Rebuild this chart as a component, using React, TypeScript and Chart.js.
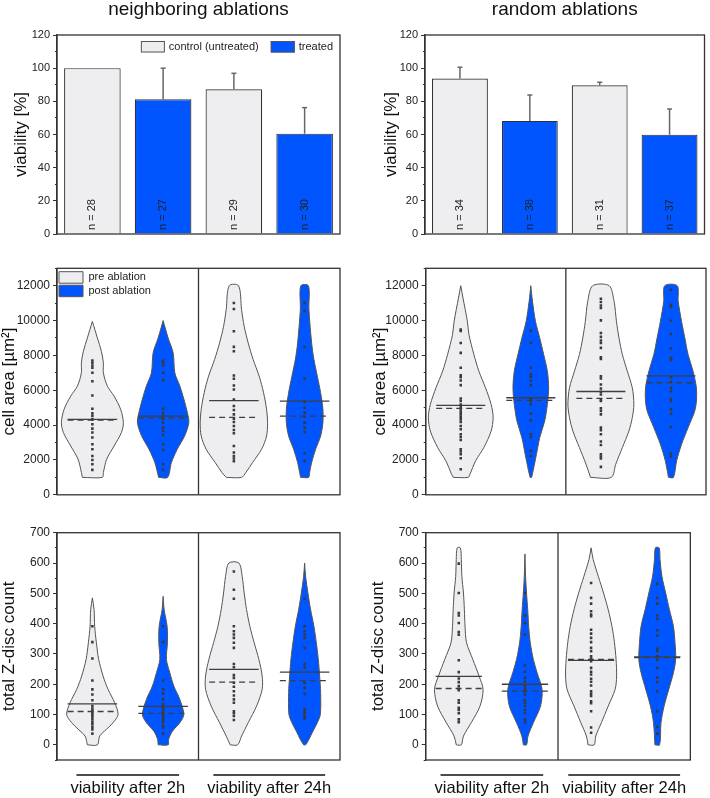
import { useEffect, useRef } from 'react';
import { Chart, registerables } from 'chart.js';

Chart.register(...registerables);

const FONT = '"Liberation Sans", Arial, Helvetica, sans-serif';
Chart.defaults.font.family = FONT;
Chart.defaults.color = '#222';

// ---------------- data ----------------
const SERIES_LABELS = ['control (untreated)', 'treated'];
const VIOLIN_LABELS = ['pre ablation', 'post ablation'];
const GROUP_LABELS = ['viability after 2h', 'viability after 24h'];
const POSITIONS = [1, 2, 3, 4];

const NEIGH_VIABILITY = [100, 81.2, 87.3, 60.5];
const NEIGH_SD = [0, 18.8, 9.6, 15.7];
const NEIGH_N = [28, 27, 29, 30];
const RANDOM_VIABILITY = [93.7, 68.2, 89.7, 59.9];
const RANDOM_SD = [6.8, 15.6, 1.8, 15.5];
const RANDOM_N = [34, 38, 31, 37];

// violin outlines: value levels and relative density (arbitrary units)
const CELL_NEIGH_LEVELS = [
  [1000, 1281, 2042, 2803, 3570, 4142, 4903, 5664, 6236, 7002, 7574, 8238, 9004, 9950],
  [1000, 1850, 2600, 3400, 4150, 4700, 5500, 6250, 7000, 8150, 9000, 10000],
  [1000, 1281, 1853, 2614, 3375, 4142, 4903, 5858, 6808, 7763, 8718, 9668, 10623, 12000],
  [1000, 1281, 1853, 2614, 3375, 4142, 4903, 5858, 6808, 7763, 8718, 10623, 12000],
];
const CELL_NEIGH_DENSITY = [
  [10, 11, 14.3, 21.7, 29, 31, 28.3, 21.7, 15, 11, 11, 9, 5, 0],
  [4.5, 8.3, 14, 21.7, 25.7, 24.3, 20.7, 16.7, 11.7, 10, 5, 0],
  [7.5, 12, 18.7, 27.7, 32.7, 33.7, 32.7, 29.7, 25.3, 19.3, 14.3, 10.3, 7.7, 4.7],
  [4, 5, 7, 11, 16, 18.3, 18.3, 16, 12.7, 9.3, 7, 4.3, 3.8],
];
const CELL_NEIGH_DOTS = [
  [7706, 7574, 7420, 7288, 7002, 6522, 5704, 4942, 4674, 4520, 4330, 4045, 3799, 3570, 3284, 2900, 2614, 2231, 2002, 1756, 1430],
  [7706, 7574, 7420, 7002, 6580, 4942, 4714, 4520, 4370, 4142, 3856, 3665, 3436, 2900, 2576, 1756, 1430],
  [11006, 10663, 9382, 8489, 8238, 6848, 6659, 6276, 6047, 5475, 5092, 4863, 4616, 4370, 4176, 3947, 3719, 3529, 2803, 2423, 2232, 2080, 1928],
  [11006, 10550, 8489, 6680, 5342, 5000, 4714, 4490, 4142, 3856, 3605, 2385, 1947],
];
const CELL_NEIGH_MEAN = [4330, 4520, 5400, 5380];
const CELL_NEIGH_MEDIAN = [4290, 4406, 4446, 4520];

const CELL_RAND_LEVELS = [
  [1000, 1184, 1945, 2712, 3661, 4428, 5189, 6144, 7094, 8049, 9193, 9954, 11293, 12000],
  [1000, 1374, 2327, 3280, 4235, 5189, 6144, 7094, 8049, 9000, 9954, 11102, 12000],
  [1000, 1755, 2712, 3661, 4428, 5189, 6144, 7094, 8049, 9000, 9954, 11102, 12000],
  [1000, 1945, 2900, 3856, 4806, 5380, 6144, 7094, 8049, 9000, 9954, 11102, 12000],
];
const CELL_RAND_DENSITY = [
  [7.5, 9.3, 15, 23.3, 30.7, 32.7, 30.7, 25, 18.3, 13.3, 8.3, 6.7, 2.3, 0],
  [0.7, 2.3, 5.7, 9, 14, 16.7, 18, 16.7, 13, 9, 4.7, 1.7, 0],
  [10.5, 15, 21.7, 28.3, 31.7, 33.3, 31.7, 26.7, 21.7, 18.3, 15.7, 13.3, 8.3],
  [2.5, 5.7, 10.7, 17.3, 24, 25.7, 25.7, 22.3, 17.3, 14, 10.7, 7.3, 6.3],
];
const CELL_RAND_DOTS = [
  [9480, 9400, 8717, 8146, 7287, 6867, 6750, 6561, 6294, 5532, 5378, 5188, 5034, 4901, 4769, 4616, 4483, 4330, 4176, 3947, 3757, 3471, 3318, 3146, 2613, 2481, 2327, 2098, 1469],
  [9422, 8717, 7287, 6905, 6770, 6561, 6294, 5532, 5378, 5188, 4654, 4272, 3471, 3318, 2517, 2231],
  [11253, 11063, 10870, 10719, 10011, 9292, 9063, 8851, 8717, 8432, 7895, 7801, 6808, 6676, 6333, 6104, 5913, 5761, 5475, 5378, 4960, 4806, 4616, 3856, 3701, 3471, 3055, 2860, 2328, 2195, 2082, 1602],
  [11767, 10910, 10776, 9994, 9233, 8392, 7860, 7744, 6751, 6487, 6144, 5950, 5515, 5378, 4903, 4655, 3890, 2368, 2195],
];
const CELL_RAND_MEAN = [5130, 5570, 5930, 6830];
const CELL_RAND_MEDIAN = [4960, 5420, 5540, 6430];

const ZDISC_NEIGH_LEVELS = [
  [0, 29, 51, 73, 100, 139, 183, 227, 282, 337, 391, 446, 485],
  [0, 18, 45, 73, 100, 150, 194, 238, 282, 337, 391, 446, 490],
  [0, 29, 73, 128, 183, 227, 282, 337, 391, 446, 501, 556, 600],
  [0, 18, 45, 73, 100, 173, 227, 282, 337, 391, 446, 501, 556, 600],
];
const ZDISC_NEIGH_DENSITY = [
  [5, 7.3, 14, 20.7, 25.7, 22.3, 15.7, 10.7, 6.3, 4, 2.3, 1.7, 0],
  [5, 5.5, 9.3, 16.7, 20.7, 16.7, 10.7, 6.7, 3.3, 4.3, 4, 1, 0],
  [3.7, 7.7, 14.3, 22.7, 28.3, 28.3, 25, 20.3, 16, 12.7, 10.3, 8.3, 5],
  [1, 4.3, 8.3, 12.7, 15.7, 16, 15, 13.7, 11.7, 9.3, 6, 3.3, 1, 0],
];
const ZDISC_NEIGH_DOTS = [
  [391, 339, 285, 212, 183, 166, 147, 128, 120, 113, 106, 99, 93, 84, 75, 68, 60, 51, 37],
  [391, 339, 212, 183, 169, 150, 134, 123, 115, 106, 99, 93, 84, 75, 64, 57, 37],
  [572, 512, 482, 391, 375, 364, 353, 337, 320, 267, 256, 230, 221, 205, 192, 177, 163, 150, 139, 111, 104, 95, 82],
  [482, 391, 375, 364, 353, 320, 267, 256, 205, 188, 168, 118, 110, 104, 95, 88],
];
const ZDISC_NEIGH_MEAN = [135, 127, 249, 240];
const ZDISC_NEIGH_MEDIAN = [110, 104, 207, 212];

const ZDISC_RAND_LEVELS = [
  [0, 29, 73, 128, 183, 227, 282, 337, 391, 446, 501, 556, 611, 650],
  [0, 29, 73, 128, 183, 238, 282, 337, 391, 446, 501, 556, 630],
  [0, 29, 73, 128, 183, 227, 282, 337, 391, 446, 501, 556, 611, 650],
  [0, 73, 128, 183, 238, 282, 337, 391, 446, 501, 556, 611, 650],
];
const ZDISC_RAND_DENSITY = [
  [2.7, 5, 13.3, 22.7, 26, 21.7, 15, 8.3, 6.7, 6, 5, 3.3, 2.7, 1.7],
  [1.7, 3.3, 9, 16.7, 18.3, 13, 9, 5.7, 4, 3, 1.7, 0.7, 0],
  [3.3, 5, 11, 18.3, 25.7, 27.3, 26.7, 25, 22.3, 18.3, 13.3, 7.7, 2.3, 0],
  [2.5, 4, 7.3, 12.3, 17.3, 19.7, 19, 17.3, 13, 9, 5, 3, 2],
];
const ZDISC_RAND_DOTS = [
  [598, 501, 435, 427, 402, 372, 363, 279, 240, 219, 207, 194, 185, 180, 147, 139, 122, 115, 104, 84, 75],
  [501, 427, 402, 364, 262, 241, 221, 208, 194, 185, 177, 166, 147, 139, 128, 115, 104, 84, 75],
  [534, 485, 466, 441, 430, 424, 380, 367, 353, 339, 320, 309, 292, 285, 276, 254, 241, 232, 218, 208, 196, 177, 169, 161, 144, 137, 111, 57, 40],
  [532, 485, 466, 427, 415, 378, 361, 317, 309, 292, 281, 254, 222, 207, 177, 111, 59, 37],
];
const ZDISC_RAND_MEAN = [226, 200, 279, 290];
const ZDISC_RAND_MEDIAN = [186, 177, 282, 288];

// ---------------- styles ----------------
const GRAY = '#eeeef0';
const BLUE = '#0055ff';
const AXIS = '#333333';
const OUTLINE = '#555555';
const STAT = '#3f3f3f';
const DOT = '#3a3a3a';
const X_MIN = 0.5;
const X_MAX = 4.5;
const DENS_TO_X = 1 / 70.75;
const LINE_HALF = 0.35;

const isMinor = (v: number, major: number) => Math.round(v) % major !== 0;

function makeYAxis(p: any) {
  return {
    type: 'linear',
    position: 'left',
    min: p.min,
    max: p.max,
    afterFit: (s: any) => {
      s.width = p.width;
    },
    ticks: {
      stepSize: p.step,
      autoSkip: false,
      color: '#222',
      padding: 3,
      font: { size: p.tickSize, family: FONT },
      callback: (v: any) => (isMinor(Number(v), p.major) ? '' : String(v)),
    },
    grid: {
      drawOnChartArea: false,
      drawTicks: true,
      tickLength: 4,
      tickColor: AXIS,
      tickWidth: 1,
      tickBorderDash: (c: any) => (c.tick && isMinor(c.tick.value, p.major) ? [2, 2] : []),
      tickBorderDashOffset: (c: any) => (c.tick && isMinor(c.tick.value, p.major) ? 2 : 0),
    },
    border: { color: AXIS, width: 1.3 },
    title: {
      display: true,
      text: p.title,
      color: '#111',
      font: { size: 17, lineHeight: 1, family: FONT },
      padding: { top: p.titleOffset, bottom: 0 },
    },
  };
}

const framePlugin = {
  id: 'frame',
  afterDatasetsDraw(chart: any) {
    const { ctx, chartArea: a } = chart;
    ctx.save();
    ctx.strokeStyle = AXIS;
    ctx.lineWidth = 1.3;
    ctx.strokeRect(a.left, a.top, a.right - a.left, a.bottom - a.top);
    ctx.restore();
  },
};

function nLabelPlugin(counts: number[]) {
  return {
    id: 'nLabels',
    afterDatasetsDraw(chart: any) {
      const { ctx } = chart;
      const xs = chart.scales.x;
      const ys = chart.scales.y;
      ctx.save();
      ctx.font = `11px ${FONT}`;
      ctx.fillStyle = '#222';
      ctx.textAlign = 'left';
      ctx.textBaseline = 'middle';
      counts.forEach((n, i) => {
        ctx.save();
        ctx.translate(xs.getPixelForValue(POSITIONS[i]), ys.getPixelForValue(0) - 4);
        ctx.rotate(-Math.PI / 2);
        ctx.fillText(`n = ${n}`, 0, 0);
        ctx.restore();
      });
      ctx.restore();
    },
  };
}

const barLegendPlugin = {
  id: 'barLegend',
  afterDatasetsDraw(chart: any) {
    const { ctx, chartArea: a } = chart;
    const colors = [GRAY, BLUE];
    ctx.save();
    ctx.font = `11px ${FONT}`;
    const widths = SERIES_LABELS.map((t) => 28 + ctx.measureText(t).width);
    const total = widths.reduce((s, w) => s + w, 0) + 12 * (SERIES_LABELS.length - 1);
    let x = a.right - 7 - total;
    const y = a.top + 6;
    SERIES_LABELS.forEach((t, i) => {
      ctx.fillStyle = colors[i];
      ctx.fillRect(x, y, 24, 11.5);
      ctx.strokeStyle = OUTLINE;
      ctx.lineWidth = 1;
      ctx.strokeRect(x + 0.5, y + 0.5, 23, 10.5);
      ctx.fillStyle = '#222';
      ctx.textAlign = 'left';
      ctx.textBaseline = 'middle';
      ctx.fillText(t, x + 28, y + 6);
      x += widths[i] + 12;
    });
    ctx.restore();
  },
};

const overlinePlugin = {
  id: 'overline',
  afterDraw(chart: any) {
    const s = chart.scales.xg;
    if (!s) return;
    const { ctx } = chart;
    ctx.save();
    ctx.strokeStyle = '#111';
    ctx.lineWidth = 1.3;
    ctx.font = `16.5px ${FONT}`;
    GROUP_LABELS.forEach((label, i) => {
      const x = s.getPixelForTick(i);
      const w = ctx.measureText(label).width - 12;
      const y = s.top + 15;
      ctx.beginPath();
      ctx.moveTo(x - w / 2, y);
      ctx.lineTo(x + w / 2, y);
      ctx.stroke();
    });
    ctx.restore();
  },
};

function barConfig(p: any) {
  const datasets: any[] = [
    {
      type: 'bar',
      label: SERIES_LABELS[0],
      data: [0, 2].map((i) => ({ x: POSITIONS[i], y: p.values[i] })),
      backgroundColor: GRAY,
      borderColor: AXIS,
      borderWidth: 1.2,
      grouped: false,
      barPercentage: 1,
      categoryPercentage: 0.8,
      order: 2,
    },
    {
      type: 'bar',
      label: SERIES_LABELS[1],
      data: [1, 3].map((i) => ({ x: POSITIONS[i], y: p.values[i] })),
      backgroundColor: BLUE,
      borderColor: AXIS,
      borderWidth: 1.2,
      grouped: false,
      barPercentage: 1,
      categoryPercentage: 0.8,
      order: 2,
    },
  ];
  p.values.forEach((v: number, i: number) => {
    if (p.sd[i] <= 0) return;
    datasets.push({
      type: 'line',
      label: 'sd',
      data: [
        { x: POSITIONS[i], y: v },
        { x: POSITIONS[i], y: v + p.sd[i] },
      ],
      borderColor: '#666',
      borderWidth: 1.5,
      pointRadius: [0, 2.5],
      pointStyle: 'line',
      pointBorderColor: '#666',
      pointBorderWidth: 1.5,
      order: 1,
    });
  });
  return {
    type: 'bar',
    data: { datasets },
    options: {
      responsive: false,
      animation: false,
      events: [],
      layout: { padding: { left: 0, top: 0, right: p.padRight, bottom: 16 } },
      scales: {
        x: { type: 'linear', min: X_MIN, max: X_MAX, display: false, offset: false, ticks: { stepSize: 1 } },
        y: makeYAxis({ min: 0, max: 120, step: 10, major: 20, title: 'viability [%]', titleOffset: p.titleOffset, width: p.yWidth, tickSize: 11 }),
      },
      plugins: {
        legend: { display: false },
        tooltip: { enabled: false },
        title: {
          display: true,
          text: p.title,
          fullSize: false,
          color: '#111',
          font: { size: 19, weight: 'normal', lineHeight: 1, family: FONT },
          padding: { top: 0, bottom: 16 },
        },
      },
    },
    plugins: [framePlugin, nLabelPlugin(p.counts), ...(p.legend ? [barLegendPlugin] : [])],
  };
}

function violinConfig(p: any) {
  const datasets: any[] = [
    {
      type: 'line',
      label: 'divider',
      data: [
        { x: 2.5, y: p.yMin },
        { x: 2.5, y: p.yMax },
      ],
      borderColor: AXIS,
      borderWidth: 1.3,
      pointRadius: 0,
      order: 0,
    },
  ];
  POSITIONS.forEach((c, i) => {
    const lv: number[] = p.levels[i];
    const dn: number[] = p.density[i];
    const left = lv.map((v, k) => ({ x: c - dn[k] * DENS_TO_X, y: v }));
    const right = lv.map((v, k) => ({ x: c + dn[k] * DENS_TO_X, y: v })).reverse();
    datasets.push({
      type: 'line',
      label: 'violin',
      data: [...left, ...right, left[0]],
      fill: 'shape',
      backgroundColor: i % 2 === 0 ? GRAY : BLUE,
      borderColor: OUTLINE,
      borderWidth: 1,
      pointRadius: 0,
      tension: 0.3,
      order: 4,
    });
    datasets.push({
      type: 'line',
      label: 'mean',
      data: [
        { x: c - LINE_HALF, y: p.mean[i] },
        { x: c + LINE_HALF, y: p.mean[i] },
      ],
      borderColor: STAT,
      borderWidth: 1.3,
      pointRadius: 0,
      order: 2,
    });
    datasets.push({
      type: 'line',
      label: 'median',
      data: [
        { x: c - LINE_HALF, y: p.median[i] },
        { x: c + LINE_HALF, y: p.median[i] },
      ],
      borderColor: STAT,
      borderWidth: 1.3,
      borderDash: [6, 4],
      pointRadius: 0,
      order: 2,
    });
    datasets.push({
      type: 'line',
      label: 'points',
      data: p.dots[i].map((v: number) => ({ x: c, y: v })),
      showLine: false,
      pointRadius: 1.8,
      pointStyle: 'rect',
      pointBackgroundColor: DOT,
      pointBorderWidth: 0,
      order: 1,
    });
  });

  const scales: any = {
    x: { type: 'linear', min: X_MIN, max: X_MAX, display: false },
    y: makeYAxis({ min: p.yMin, max: p.yMax, step: p.step, major: p.major, title: p.title, titleOffset: p.titleOffset, width: p.yWidth, tickSize: 12 }),
  };
  if (p.groupAxis) {
    scales.xg = {
      type: 'category',
      labels: GROUP_LABELS,
      position: 'bottom',
      offset: true,
      grid: { display: false, drawTicks: false },
      border: { display: false },
      ticks: { color: '#111', padding: 19, font: { size: 16.5, family: FONT }, maxRotation: 0, minRotation: 0, autoSkip: false },
      afterFit: (s: any) => {
        s.height = 38;
      },
    };
  }

  return {
    type: 'line',
    data: { datasets },
    options: {
      responsive: false,
      animation: false,
      events: [],
      layout: { padding: p.padding },
      scales,
      plugins: {
        tooltip: { enabled: false },
        title: { display: false },
        legend: p.legend
          ? {
              display: true,
              position: 'chartArea',
              align: 'start',
              title: { display: true, text: ' ', font: { size: 2 }, padding: { top: 17.3, bottom: 0 } },
              labels: {
                boxWidth: 24,
                boxHeight: 11.5,
                padding: 2,
                color: '#222',
                font: { size: 11, family: FONT },
                generateLabels: () => [
                  { text: VIOLIN_LABELS[0], fillStyle: GRAY, strokeStyle: OUTLINE, lineWidth: 1, hidden: false, datasetIndex: 1 },
                  { text: VIOLIN_LABELS[1], fillStyle: BLUE, strokeStyle: OUTLINE, lineWidth: 1, hidden: false, datasetIndex: 5 },
                ],
              },
            }
          : { display: false },
      },
    },
    plugins: [framePlugin, ...(p.groupAxis ? [overlinePlugin] : [])],
  };
}

const PANELS: any[] = [
  {
    key: 'tl', left: 0, top: 0, width: 355, height: 250,
    make: () => barConfig({ values: NEIGH_VIABILITY, sd: NEIGH_SD, counts: NEIGH_N, title: 'neighboring ablations', titleOffset: 13, yWidth: 57, padRight: 15, legend: true }),
  },
  {
    key: 'tr', left: 355, top: 0, width: 355, height: 250,
    make: () => barConfig({ values: RANDOM_VIABILITY, sd: RANDOM_SD, counts: RANDOM_N, title: 'random ablations', titleOffset: 28, yWidth: 70, padRight: 2, legend: false }),
  },
  {
    key: 'ml', left: 0, top: 250, width: 355, height: 255,
    make: () => violinConfig({ levels: CELL_NEIGH_LEVELS, density: CELL_NEIGH_DENSITY, dots: CELL_NEIGH_DOTS, mean: CELL_NEIGH_MEAN, median: CELL_NEIGH_MEDIAN, yMin: 0, yMax: 13000, step: 1000, major: 2000, title: 'cell area [µm²]', titleOffset: 0.5, yWidth: 57, padding: { left: 0, top: 18.3, right: 15, bottom: 9.3 }, legend: true, groupAxis: false }),
  },
  {
    key: 'mr', left: 355, top: 250, width: 355, height: 255,
    make: () => violinConfig({ levels: CELL_RAND_LEVELS, density: CELL_RAND_DENSITY, dots: CELL_RAND_DOTS, mean: CELL_RAND_MEAN, median: CELL_RAND_MEDIAN, yMin: 0, yMax: 13000, step: 1000, major: 2000, title: 'cell area [µm²]', titleOffset: 16.5, yWidth: 70.7, padding: { left: 0, top: 18.3, right: 1.7, bottom: 9.3 }, legend: false, groupAxis: false }),
  },
  {
    key: 'bl', left: 0, top: 505, width: 355, height: 293,
    make: () => violinConfig({ levels: ZDISC_NEIGH_LEVELS, density: ZDISC_NEIGH_DENSITY, dots: ZDISC_NEIGH_DOTS, mean: ZDISC_NEIGH_MEAN, median: ZDISC_NEIGH_MEDIAN, yMin: -50, yMax: 700, step: 50, major: 100, title: 'total Z-disc count', titleOffset: 0.5, yWidth: 57, padding: { left: 0, top: 27.7, right: 15, bottom: 0 }, legend: false, groupAxis: true }),
  },
  {
    key: 'br', left: 355, top: 505, width: 355, height: 293,
    make: () => violinConfig({ levels: ZDISC_RAND_LEVELS, density: ZDISC_RAND_DENSITY, dots: ZDISC_RAND_DOTS, mean: ZDISC_RAND_MEAN, median: ZDISC_RAND_MEDIAN, yMin: -50, yMax: 700, step: 50, major: 100, title: 'total Z-disc count', titleOffset: 15, yWidth: 70.7, padding: { left: 0, top: 27.7, right: 2, bottom: 0 }, legend: false, groupAxis: true }),
  },
];

function ChartCanvas({ left, top, width, height, make }: any) {
  const ref = useRef<HTMLCanvasElement>(null);
  useEffect(() => {
    const chart = new Chart(ref.current as HTMLCanvasElement, make());
    return () => chart.destroy();
  }, []);
  return (
    <canvas
      ref={ref}
      width={width}
      height={height}
      style={{ position: 'absolute', left, top, width, height }}
    />
  );
}

export default function App() {
  return (
    <div style={{ position: 'absolute', left: 0, top: 0, width: 710, height: 798, background: '#ffffff', overflow: 'hidden' }}>
      {PANELS.map((p) => (
        <ChartCanvas key={p.key} {...p} />
      ))}
    </div>
  );
}
